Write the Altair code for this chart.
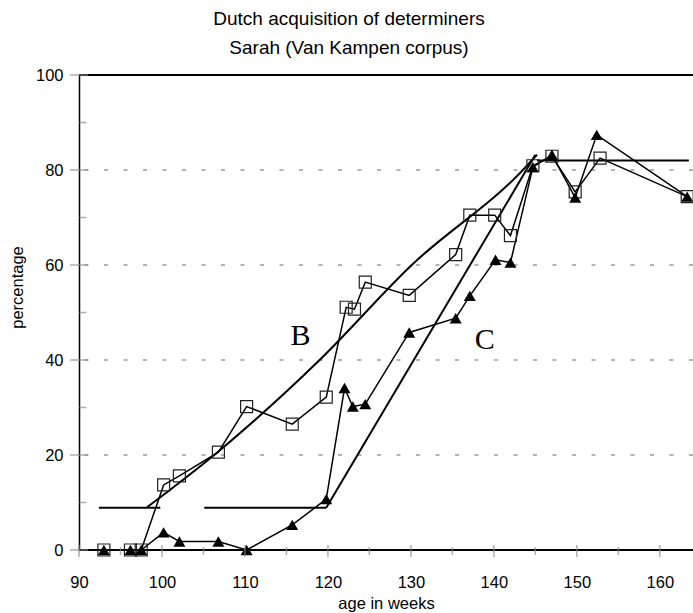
import altair as alt
import pandas as pd

# ---- data ----
sq_x = [93.0, 96.2, 97.5, 100.2, 102.1, 106.8, 110.2, 115.7, 119.8, 122.2, 123.2,
        124.5, 129.8, 135.4, 137.1, 140.1, 142.0, 144.7, 147.0, 149.8, 152.8, 163.3]
sq_y = [0, 0, 0, 13.7, 15.6, 20.6, 30.2, 26.5, 32.2, 51.1, 50.7,
        56.4, 53.6, 62.2, 70.5, 70.5, 66.2, 80.9, 82.9, 75.4, 82.5, 74.4]

tri_x = [93.0, 96.2, 97.5, 100.2, 102.1, 106.8, 110.2, 115.7, 119.8, 122.0, 123.0,
         124.5, 129.8, 135.4, 137.1, 140.2, 142.0, 144.7, 147.0, 149.8, 152.4, 163.3]
tri_y = [0, 0, 0, 3.7, 1.8, 1.8, 0, 5.3, 10.7, 34.1, 30.2,
         30.7, 45.8, 48.8, 53.5, 61.1, 60.5, 80.6, 83.2, 74.2, 87.4, 74.4]

fit_a_x = [92.4, 99.8]
fit_a_y = [8.9, 8.9]
fit_d_x = [105.1, 119.8]
fit_d_y = [8.9, 8.9]
fit_b_x = [98.2, 106.7, 119.0, 130.1, 143.5, 145.2]
fit_b_y = [9.0, 20.6, 40.0, 60.0, 80.0, 83.2]
fit_c_x = [119.8, 145.0]
fit_c_y = [8.9, 83.2]
fit_h_x = [145.2, 163.5]
fit_h_y = [82.0, 82.0]

label_text = ["B", "C"]
label_x = [116.7, 138.9]
label_y = [45.1, 44.2]

x_major = [90, 100, 110, 120, 130, 140, 150, 160]
x_minor = [95, 105, 115, 125, 135, 145, 155]
y_major = [0, 20, 40, 60, 80, 100]
y_minor = [10, 30, 50, 70, 90]
grid_y = [20, 40, 60, 80]
frame_y = [0, 100]

# ---- tables ----
sq_df = pd.DataFrame({"x": sq_x, "y": sq_y})
tri_df = pd.DataFrame({"x": tri_x, "y": tri_y})


def seg_df(xs_, ys_):
    return pd.DataFrame({"x": xs_, "y": ys_, "i": list(range(len(xs_)))})


lab_df = pd.DataFrame({"t": label_text, "x": label_x, "y": label_y})

FONT = "Liberation Sans"
xs = alt.Scale(domain=[90, 164], nice=False, zero=False)
ys = alt.Scale(domain=[0, 100], nice=False, zero=True)
x_axis = alt.Axis(values=x_major, title="age in weeks", grid=False, ticks=False, tickSize=0,
                  domain=False, labelFont=FONT, labelFontSize=16.5, labelColor="black",
                  labelPadding=24, titleFont=FONT, titleFontSize=16.5, titleFontWeight="normal",
                  titleColor="black", titleBaseline="alphabetic", titleY=58, labelFlush=False)
y_axis = alt.Axis(values=y_major, title="percentage", grid=False, ticks=False, tickSize=0,
                  domain=True, domainColor="black", domainWidth=1.5,
                  labelFont=FONT, labelFontSize=16.5, labelColor="black", labelPadding=16,
                  titleFont=FONT, titleFontSize=16.5, titleFontWeight="normal", titleColor="black",
                  titleBaseline="alphabetic", titleX=-57, titleY=212, titleAngle=-90,
                  titleAlign="center", labelFlush=False)


def X(f="x"):
    return alt.X(f"{f}:Q", scale=xs, axis=x_axis)


def Y(f="y"):
    return alt.Y(f"{f}:Q", scale=ys, axis=y_axis)


grid = alt.Chart(pd.DataFrame({"y": grid_y})).mark_rule(
    color="#9a9a9a", strokeWidth=1.5, strokeDash=[4, 15.5]).encode(y=Y())
frame = alt.Chart(pd.DataFrame({"y": frame_y})).mark_rule(
    color="black", strokeWidth=2).encode(y=Y())

xt_major = alt.Chart(pd.DataFrame({"x": x_major})).mark_tick(
    orient="vertical", size=12, thickness=1.5, color="#8a8a8a").encode(x=X(), y=alt.value(476))
xt_minor = alt.Chart(pd.DataFrame({"x": x_minor})).mark_tick(
    orient="vertical", size=8, thickness=1.5, color="#8a8a8a").encode(x=X(), y=alt.value(476))
yt_major = alt.Chart(pd.DataFrame({"y": y_major})).mark_tick(
    orient="horizontal", size=18, thickness=1.5, color="#8a8a8a").encode(y=Y(), x=alt.value(0))
yt_minor = alt.Chart(pd.DataFrame({"y": y_minor})).mark_tick(
    orient="horizontal", size=7, thickness=1.5, color="#8a8a8a").encode(y=Y(), x=alt.value(4))


def fit_line(xs_, ys_, interp="linear"):
    return alt.Chart(seg_df(xs_, ys_)).mark_line(
        color="black", strokeWidth=2, interpolate=interp).encode(x=X(), y=Y(), order="i:Q")


fits = [fit_line(fit_a_x, fit_a_y), fit_line(fit_d_x, fit_d_y),
        fit_line(fit_b_x, fit_b_y, "monotone"), fit_line(fit_c_x, fit_c_y),
        fit_line(fit_h_x, fit_h_y)]

sq_line = alt.Chart(sq_df).mark_line(color="black", strokeWidth=1.5).encode(x=X(), y=Y())
sq_pts = alt.Chart(sq_df).mark_point(shape="square", size=144, filled=False,
                                     color="#222", strokeWidth=1.2, opacity=1).encode(x=X(), y=Y())
tri_line = alt.Chart(tri_df).mark_line(color="black", strokeWidth=1.5).encode(x=X(), y=Y())
tri_pts = alt.Chart(tri_df).mark_point(shape="triangle-up", size=144, filled=True,
                                       color="black", opacity=1).encode(x=X(), y=Y())

labels = alt.Chart(lab_df).mark_text(font="Liberation Serif", fontSize=30, color="black",
                                     align="center", baseline="middle").encode(
    x=X(), y=Y(), text="t:N")

chart = alt.layer(
    grid, frame, *fits, sq_line, tri_line, sq_pts, tri_pts, labels,
    xt_major, xt_minor, yt_major, yt_minor,
).properties(
    width=614, height=475,
    autosize=alt.AutoSizeParams(type="none"),
    padding={"left": 79, "top": 75, "right": 0, "bottom": 63},
    background="white",
    title=alt.TitleParams(
        text=["Dutch acquisition of determiners", "Sarah (Van Kampen corpus)"],
        font=FONT, fontSize=19, fontWeight="normal", color="black",
        anchor="middle", dx=-37, dy=29, lineHeight=29, baseline="bottom", offset=19),
).configure_view(stroke=None)

chart.save("out.html", embed_options={"renderer": "svg", "actions": False})
